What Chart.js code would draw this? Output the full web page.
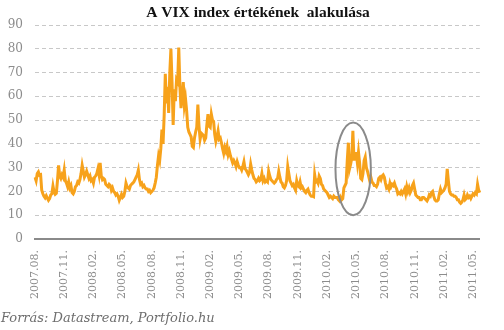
<!DOCTYPE html>
<html>
<head>
<meta charset="utf-8">
<script src="https://cdn.jsdelivr.net/npm/chart.js@4/dist/chart.umd.min.js"></script>
<style>
html,body{margin:0;padding:0;background:#fff}
#wrap{width:504px;height:330px;position:relative}
</style>
</head>
<body>
<div id="wrap"><canvas id="c" width="504" height="330"></canvas></div>
<script>
// ---- text ----
const chartTitle = 'A VIX index értékének  alakulása';
const sourceNote = 'Forrás: Datastream, Portfolio.hu';

// ---- tick labels (one every 26 half-weekly observations) ----
const tickLabels = ['2007.08.','2007.11.','2008.02.','2008.05.','2008.08.','2008.11.','2009.02.','2009.05.',
                    '2009.08.','2009.11.','2010.02.','2010.05.','2010.08.','2010.11.','2011.02.','2011.05.'];
const tickEvery = 26;
const yMin = 0, yMax = 90, yStep = 10;

// ---- VIX values, about two observations per week ----
const vix2007 = [
  26.0, 24.5,
  27.5, 28.2, 26.8, 27.0, 20.5, 19.0, 18.0, 17.3, 18.2,
  17.2, 16.3, 17.0, 18.5, 19.0, 22.3, 19.8, 18.8, 19.2,
  24.5, 31.0, 26.5, 25.5, 27.0, 26.0, 29.0, 24.5,
  23.5, 22.0, 24.0, 21.5, 22.5, 19.5, 19.0, 20.0, 22.0
];
const vix2008 = [
  22.5, 24.0, 23.5, 25.0, 27.5, 31.0, 28.5, 26.0, 27.0,
  28.5, 27.0, 25.5, 26.5, 24.5, 25.0, 23.5, 26.0,
  26.5, 27.5, 29.5, 27.0, 32.0, 26.5, 25.0, 25.5, 25.0,
  23.0, 22.5, 22.0, 23.0, 22.5, 20.5, 21.5, 20.0,
  19.5, 18.5, 19.0, 18.0, 16.3, 17.5, 18.8, 17.5, 18.0,
  20.0, 23.5, 22.0, 21.5, 21.0, 22.5, 23.0, 23.5,
  24.0, 25.0, 26.0, 27.0, 29.0, 25.0, 23.0, 23.5, 22.0,
  22.5, 21.5, 21.0, 21.0, 20.0, 20.5, 19.5, 20.0, 20.5,
  21.5, 23.5, 26.0, 31.0, 35.0, 33.0, 38.0, 46.0,
  40.0, 52.0, 69.5, 57.0, 64.0, 53.0, 70.0, 80.0, 66.0,
  48.0, 63.0, 58.0, 67.0, 66.0, 80.5, 64.0, 55.0, 60.0,
  66.0, 56.0, 59.0, 54.0, 47.0, 45.0, 44.0, 43.0
];
const vix2009 = [
  39.0, 38.5, 42.5, 45.0, 47.0, 56.5, 47.5, 42.0, 44.5,
  44.0, 43.5, 41.5, 42.5, 48.0, 52.5, 47.5, 47.0,
  52.5, 50.0, 49.5, 44.0, 41.0, 43.0, 45.5, 42.0, 42.5,
  40.5, 38.0, 36.0, 38.5, 37.0, 39.0, 35.5, 37.0,
  35.0, 33.5, 32.0, 33.0, 32.0, 30.5, 32.5, 31.0, 30.0,
  30.0, 29.0, 30.5, 32.5, 29.5, 29.0, 28.0, 27.0,
  28.0, 31.5, 29.0, 27.0, 25.5, 25.0, 24.0, 24.5, 25.5,
  24.5, 25.0, 27.5, 24.5, 25.5, 24.0, 24.5, 24.0, 28.5,
  26.5, 25.0, 24.5, 24.0, 23.5, 24.0, 25.0, 25.5,
  28.5, 26.0, 24.0, 23.5, 22.0, 21.5, 22.5, 24.5, 30.5,
  27.5, 24.5, 23.5, 22.5, 23.0, 21.5, 20.5, 24.5, 22.5,
  22.0, 24.0, 21.5, 22.0, 21.0, 20.0, 19.5, 20.5
];
const vix2010 = [
  21.0, 19.5, 18.5, 18.0, 18.0, 17.8, 27.0, 24.0, 24.5,
  23.5, 26.5, 25.5, 23.0, 22.5, 21.0, 20.5, 20.0,
  19.5, 18.5, 17.5, 18.0, 17.5, 17.0, 18.0, 17.5, 17.5,
  17.5, 16.5, 16.0, 17.5, 16.5, 17.0, 21.5, 22.5,
  23.5, 33.0, 40.5, 29.5, 31.5, 34.0, 45.5, 33.0, 36.0,
  36.0, 32.0, 36.5, 32.0, 25.5, 25.0, 27.5, 33.0, 34.5,
  30.0, 28.5, 26.5, 24.5, 26.0, 24.0, 23.5, 22.5,
  22.5, 22.0, 23.0, 25.5, 26.0, 25.0, 26.5, 27.0, 26.0,
  23.5, 21.5, 22.0, 21.0, 23.5, 22.0, 23.0, 22.5, 23.5,
  22.0, 21.0, 19.0, 19.5, 19.0, 20.0, 19.0, 20.0,
  21.0, 19.0, 22.0, 20.0, 21.5, 19.5, 20.5, 22.5, 23.5,
  21.0, 18.5, 18.0, 17.5, 17.5, 16.5, 16.5, 17.5
];
const vix2011 = [
  17.5, 17.0, 16.5, 16.0, 17.0, 18.5, 18.0, 19.5, 20.0,
  18.0, 16.5, 16.0, 16.0, 16.5, 19.0, 21.0, 19.5,
  20.0, 20.5, 21.5, 23.0, 29.5, 24.5, 20.0, 19.0, 18.5,
  18.5, 18.0, 18.0, 17.5, 16.5, 16.5, 15.5, 15.0,
  15.5, 16.5, 18.5, 16.5, 17.0, 18.5, 17.5, 18.0, 17.0,
  18.0, 19.0, 18.5, 19.5, 19.0, 23.0, 20.5, 19.5
];
const vixValues = [...vix2007, ...vix2008, ...vix2009, ...vix2010, ...vix2011];
const categories = vixValues.map((_, i) => (i % tickEvery === 0 ? (tickLabels[i / tickEvery] || '') : ''));

// highlighted period (ellipse), in axis units: observation index and index level
const highlight = { from: 267.5, to: 299, low: 10, high: 49 };

const textPlugin = {
  id: 'texts',
  afterDraw(chart) {
    const ctx = chart.ctx;
    ctx.save();
    ctx.fillStyle = '#111';
    ctx.font = 'bold 15.5px "Liberation Serif", serif';
    ctx.textAlign = 'center';
    ctx.textBaseline = 'alphabetic';
    ctx.fillText(chartTitle, 258, 17);
    ctx.fillStyle = '#6e6e6e';
    ctx.font = 'italic 13px "DejaVu Serif", serif';
    ctx.textAlign = 'left';
    ctx.fillText(sourceNote, 1, 322);
    ctx.restore();
  }
};

const ellipsePlugin = {
  id: 'ellipse',
  afterDatasetsDraw(chart) {
    const x = chart.scales.x, y = chart.scales.y;
    const x1 = x.getPixelForValue(highlight.from), x2 = x.getPixelForValue(highlight.to);
    const y1 = y.getPixelForValue(highlight.high), y2 = y.getPixelForValue(highlight.low);
    const ctx = chart.ctx;
    ctx.save();
    ctx.strokeStyle = '#8a8a8a';
    ctx.lineWidth = 2;
    ctx.beginPath();
    ctx.ellipse((x1 + x2) / 2, (y1 + y2) / 2, (x2 - x1) / 2, (y2 - y1) / 2, 0, 0, Math.PI * 2);
    ctx.stroke();
    ctx.restore();
  }
};

new Chart(document.getElementById('c'), {
  type: 'line',
  data: {
    labels: categories,
    datasets: [{
      data: vixValues,
      borderColor: '#F7A21B',
      borderWidth: 3,
      pointRadius: 0,
      tension: 0,
      fill: false
    }]
  },
  options: {
    responsive: false,
    animation: false,
    devicePixelRatio: 1,
    layout: { padding: { top: 25, right: 7, left: 0, bottom: 0 } },
    plugins: { legend: { display: false }, title: { display: false }, tooltip: { enabled: false } },
    scales: {
      x: {
        type: 'category',
        grid: { display: false, drawTicks: false },
        border: { display: true, color: '#8a8a8a', width: 2 },
        ticks: {
          autoSkip: false, maxRotation: 90, minRotation: 90, padding: 11,
          color: '#8c8c8c', font: { family: '"DejaVu Serif", serif', size: 11 }
        },
        afterFit(s) { s.height = 91; }
      },
      y: {
        min: yMin, max: yMax,
        ticks: { stepSize: yStep, padding: 12, color: '#8c8c8c', font: { family: '"DejaVu Serif", serif', size: 12 } },
        grid: {
          drawTicks: false, lineWidth: 1,
          color: (c) => (c.tick && c.tick.value === 0 ? 'rgba(0,0,0,0)' : '#c8c8c8')
        },
        border: { display: false, dash: [4, 3] },
        afterFit(s) { s.width = 35; }
      }
    }
  },
  plugins: [textPlugin, ellipsePlugin]
});
</script>
</body>
</html>
